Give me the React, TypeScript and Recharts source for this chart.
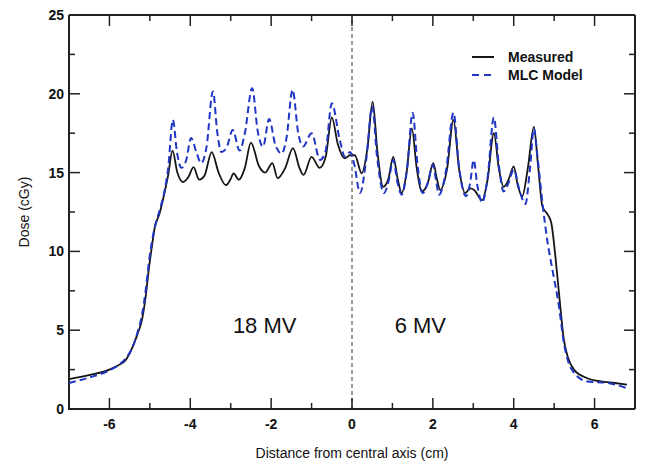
import { LineChart, Line, XAxis, YAxis, ReferenceLine, ReferenceDot, Legend } from "recharts"

// profile: distance (cm) / dose (cGy)
const measuredX = [
  -7, -6.5, -6, -5.8, -5.6, -5.45, -5.3, -5.2, -5.1, -5.02, -4.95, -4.88, -4.76, -4.64, -4.55, -4.44,
  -4.32, -4.18, -4.05, -3.92, -3.78, -3.65, -3.47, -3.3, -3.12, -3.0, -2.93, -2.8, -2.65, -2.5, -2.3,
  -2.15, -1.97, -1.84, -1.65, -1.46, -1.3, -1.2, -1.0, -0.8, -0.65, -0.5, -0.35, -0.18, -0.05, 0.07,
  0.24, 0.38, 0.51, 0.63, 0.77, 0.9, 1.02, 1.13, 1.23, 1.35, 1.48, 1.6, 1.73, 1.87, 2.01, 2.1, 2.18,
  2.35, 2.51, 2.65, 2.8, 2.92, 3.02, 3.22, 3.35, 3.51, 3.63, 3.75, 3.88, 4.0, 4.1, 4.21, 4.35, 4.5,
  4.6, 4.71, 4.85, 4.93, 5.04, 5.12, 5.24, 5.35, 5.49, 5.82, 6.15, 6.5, 6.8,
]
const measuredDose = [
  1.9, 2.15, 2.5, 2.75, 3.1, 3.8, 4.8, 5.6, 7.2, 9.0, 10.3, 11.5, 12.4, 13.7, 14.8, 16.4,
  15.0, 14.4, 14.7, 15.35, 14.55, 14.8, 16.3, 15.0, 14.2, 14.6, 14.95, 14.55, 15.3, 16.9, 15.4,
  15.0, 15.6, 14.65, 15.3, 16.55, 15.3, 14.85, 16.0, 15.3, 16.0, 18.5, 16.8, 15.9, 16.1, 16.1,
  14.95, 16.5, 19.5, 16.3, 14.1, 14.6, 16.0, 14.6, 13.7, 15.0, 17.8, 15.3, 13.8, 14.3, 15.6, 14.6, 13.9,
  15.2, 18.35, 15.2, 13.7, 14.0, 13.9, 13.25, 14.5, 17.5, 15.3, 14.1, 14.6, 15.4, 14.2, 13.5, 15.3, 17.9,
  15.5, 12.85, 12.3, 11.8, 9.45, 7.35, 4.4, 3.2, 2.5, 1.95, 1.75, 1.65, 1.55,
]

const modelX = [
  -7, -6.5, -6, -5.8, -5.6, -5.45, -5.3, -5.2, -5.1, -5.02, -4.95, -4.88, -4.76, -4.64, -4.55, -4.43,
  -4.33, -4.22, -4.1, -3.98, -3.85, -3.73, -3.6, -3.44, -3.33, -3.23, -3.1, -2.95, -2.78, -2.65, -2.47,
  -2.33, -2.2, -2.05, -1.9, -1.74, -1.62, -1.47, -1.33, -1.21, -1.0, -0.79, -0.65, -0.5, -0.3, -0.17,
  -0.05, 0.05, 0.2, 0.35, 0.5, 0.62, 0.79, 0.9, 1.02, 1.13, 1.23, 1.36, 1.5, 1.62, 1.75, 1.88, 2.0,
  2.08, 2.15, 2.33, 2.51, 2.65, 2.82, 2.92, 3.01, 3.1, 3.22, 3.35, 3.51, 3.63, 3.75, 3.88, 4.0, 4.15,
  4.29, 4.4, 4.5, 4.58, 4.71, 4.83, 4.96, 5.12, 5.24, 5.35, 5.49, 5.82, 6.32, 6.77,
]
const modelDose = [
  1.65, 2.0, 2.45, 2.75, 3.2, 3.8, 4.9, 5.9, 7.6, 9.4, 10.6, 11.5, 12.6, 13.8, 15.2, 18.35,
  16.3, 15.3, 15.8, 17.2, 16.3, 15.6, 16.6, 20.15, 17.5, 16.3, 16.6, 17.7, 16.4, 17.5, 20.35,
  17.6, 16.65, 18.4, 16.8, 16.2, 17.2, 20.25, 17.5, 16.65, 17.5, 15.8, 16.4, 19.4, 17.05, 16.0,
  16.3, 15.6, 13.7, 15.8, 19.2, 16.0, 13.7, 14.4, 15.8, 14.3, 13.6, 15.2, 18.8, 15.5, 13.7, 14.4, 15.5,
  14.5, 13.6, 15.2, 18.8, 15.3, 13.5, 14.3, 15.8, 14.2, 13.1, 14.6, 18.5, 15.5, 13.8, 14.4, 15.2, 13.8,
  13.0, 15.2, 17.8, 16.2, 13.1, 10.7, 8.8, 6.5, 4.2, 3.0, 2.3, 1.75, 1.65, 1.35,
]

const xTicks = [-6, -5, -4, -3, -2, -1, 0, 1, 2, 3, 4, 5, 6]
const xLabels = [-6, -4, -2, 0, 2, 4, 6]
const yTicks = [0, 2.5, 5, 7.5, 10, 12.5, 15, 17.5, 20, 22.5, 25]
const yLabels = [0, 5, 10, 15, 20, 25]

const seriesNames = ["Measured", "MLC Model"]
const seriesColors = ["#151515", "#1f35c4"]
const regionLabels = [
  { x: -2.16, y: 5.3, text: "18 MV" },
  { x: 1.69, y: 5.3, text: "6 MV" },
]

const X_DOMAIN = [-7, 7]
const Y_DOMAIN = [0, 25]

const measured = measuredX.map((x, i) => ({ x, dose: measuredDose[i] }))
const model = modelX.map((x, i) => ({ x, dose: modelDose[i] }))

// left + bottom edges of the box and their ticks go through the series layer
const frameEdges = [
  { x: X_DOMAIN[0], dose: Y_DOMAIN[1] },
  { x: X_DOMAIN[0], dose: Y_DOMAIN[0] },
  { x: X_DOMAIN[1], dose: Y_DOMAIN[0] },
]
const bottomTickPoints = xTicks.map((t) => ({ x: t, dose: Y_DOMAIN[0] }))
const leftTickPoints = yTicks.map((t) => ({ x: X_DOMAIN[0], dose: t }))

const FONT = '"Liberation Sans", Arial, Helvetica, sans-serif'
const AXIS = "#222"

const BottomLabel = (props: any) =>
  xLabels.includes(props.payload.value) ? (
    <text x={props.x} y={props.y + 15} textAnchor="middle" dominantBaseline="central" fill="#111"
      fontFamily={FONT} fontSize={14} fontWeight="bold">{props.payload.value}</text>
  ) : <g />

const LeftLabel = (props: any) =>
  yLabels.includes(props.payload.value) ? (
    <text x={props.x - 5} y={props.y} textAnchor="end" dominantBaseline="central" fill="#111"
      fontFamily={FONT} fontSize={14} fontWeight="bold">{props.payload.value}</text>
  ) : <g />

const TopTick = (props: any) => {
  const len = xLabels.includes(props.payload.value) ? 11 : 6
  return <line x1={props.x} x2={props.x} y1={props.y} y2={props.y + len} stroke={AXIS} strokeWidth={1.5} />
}

const RightTick = (props: any) => {
  const len = yLabels.includes(props.payload.value) ? 11 : 6
  return <line x1={props.x} x2={props.x - len} y1={props.y} y2={props.y} stroke={AXIS} strokeWidth={1.5} />
}

const BottomTickDot = (props: any) => {
  const { cx, cy, payload, index } = props
  const len = xLabels.includes(payload.x) ? 11 : 6
  return <line key={"bt" + index} x1={cx} x2={cx} y1={cy} y2={cy - len} stroke={AXIS} strokeWidth={1.5} />
}

const LeftTickDot = (props: any) => {
  const { cx, cy, payload, index } = props
  const len = yLabels.includes(payload.dose) ? 11 : 6
  return <line key={"lt" + index} x1={cx} x2={cx + len} y1={cy} y2={cy} stroke={AXIS} strokeWidth={1.5} />
}

const renderLegend = () => (
  <div style={{ fontFamily: FONT, fontSize: 14, fontWeight: "bold", color: "#111" }}>
    {seriesNames.map((name, i) => (
      <div key={name} style={{ display: "flex", alignItems: "center", height: 18, whiteSpace: "nowrap" }}>
        <svg width={36} height={10}>
          <line x1={0} x2={22} y1={5} y2={5} stroke={seriesColors[i]} strokeWidth={2}
            strokeDasharray={i === 1 ? "7 5" : undefined} />
        </svg>
        <span>{name}</span>
      </div>
    ))}
  </div>
)

export default function App() {
  return (
    <LineChart width={649} height={458} margin={{ top: 6, right: 21, left: 0, bottom: 0 }}>
      <XAxis dataKey="x" type="number" domain={X_DOMAIN} ticks={xTicks} interval={0}
        tickSize={0} tickMargin={0} tickLine={false} axisLine={false} tick={BottomLabel} height={57}
        label={{ value: "Distance from central axis (cm)", position: "insideBottom", offset: 8,
          fontFamily: FONT, fontSize: 14, fill: "#111", style: { fill: "#111" } }} />
      <XAxis xAxisId="top" orientation="top" dataKey="x" type="number" domain={X_DOMAIN} allowDataOverflow
        ticks={xTicks} interval={0} tickSize={0} tickMargin={0} tickLine={false} tick={TopTick}
        height={1} stroke={AXIS} axisLine={{ stroke: AXIS, strokeWidth: 2 }} />
      <YAxis type="number" domain={Y_DOMAIN} ticks={yTicks} interval={0} tickSize={0}
        tickMargin={0} tickLine={false} axisLine={false} tick={LeftLabel} width={61}
        label={{ value: "Dose (cGy)", angle: -90, position: "insideLeft", offset: 16, textAnchor: "middle",
          style: { textAnchor: "middle", fill: "#111" }, fontFamily: FONT, fontSize: 14, fill: "#111" }} />
      <YAxis yAxisId="right" orientation="right" type="number" domain={Y_DOMAIN} allowDataOverflow
        ticks={yTicks} interval={0} tickSize={0} tickMargin={0} tickLine={false} tick={RightTick}
        width={1} stroke={AXIS} axisLine={{ stroke: AXIS, strokeWidth: 2 }} />
      <ReferenceLine x={0} stroke="#333" strokeWidth={1} strokeDasharray="4 3" />
      {regionLabels.map((r) => (
        <ReferenceDot key={r.text} x={r.x} y={r.y} r={0} fill="none" stroke="none"
          label={{ value: r.text, position: "center", fontFamily: FONT, fontSize: 22, fill: "#111" }} />
      ))}
      <Line data={frameEdges} dataKey="dose" type="linear" stroke={AXIS} strokeWidth={2} dot={false}
        activeDot={false} legendType="none" isAnimationActive={false} />
      <Line data={bottomTickPoints} dataKey="dose" type="linear" stroke="none" dot={BottomTickDot}
        activeDot={false} legendType="none" isAnimationActive={false} />
      <Line data={leftTickPoints} dataKey="dose" type="linear" stroke="none" dot={LeftTickDot}
        activeDot={false} legendType="none" isAnimationActive={false} />
      <Line data={measured} dataKey="dose" name={seriesNames[0]} type="monotone"
        stroke={seriesColors[0]} strokeWidth={1.8} dot={false} isAnimationActive={false} />
      <Line data={model} dataKey="dose" name={seriesNames[1]} type="monotone"
        stroke={seriesColors[1]} strokeWidth={2} strokeDasharray="7 4" dot={false} isAnimationActive={false} />
      <Legend layout="vertical" align="center" verticalAlign="middle" content={renderLegend}
        wrapperStyle={{ left: 464, top: 40, width: "auto", height: "auto" }} />
    </LineChart>
  )
}
